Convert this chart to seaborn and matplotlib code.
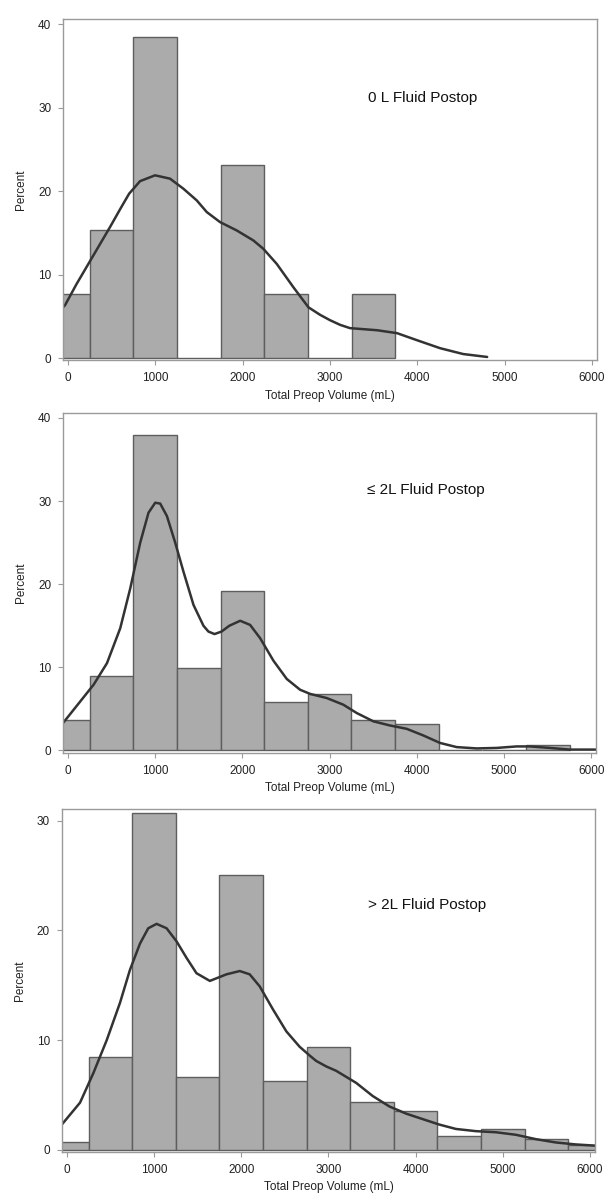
"""
Three stacked histograms of total preop volume with density curves.
"""

import matplotlib
matplotlib.use('Agg')
from matplotlib import pyplot as plt
import pandas as pd
import seaborn as sns

# Bin centers (mL) and bar heights (percent)
centers_0l = [0, 500, 1000, 1500, 2000, 2500, 3000, 3500]
percent_0l = [7.7, 15.4, 38.5, 0, 23.1, 7.7, 0, 7.7]

centers_le2l = [0, 500, 1000, 1500, 2000, 2500, 3000, 3500, 4000, 4500, 5000, 5500]
percent_le2l = [3.7, 8.9, 37.9, 9.9, 19.2, 5.8, 6.8, 3.7, 3.2, 0, 0, 0.6]

centers_gt2l = [0, 500, 1000, 1500, 2000, 2500, 3000, 3500, 4000, 4500, 5000, 5500, 6000]
percent_gt2l = [0.7, 8.5, 30.7, 6.6, 25.1, 6.3, 9.4, 4.4, 3.5, 1.3, 1.9, 1.0, 0.45]

# Density curve points (mL, percent)
kde_x_0l = [-57, -34, 99, 290, 481, 600, 700, 825, 997, 1168, 1321, 1474, 1589, 1741,
            1932, 2123, 2237, 2390, 2581, 2753, 2886, 3001, 3115, 3230, 3540, 3768,
            3998, 4261, 4525, 4800]
kde_y_0l = [6.1, 6.35, 8.9, 12.3, 15.7, 17.9, 19.7, 21.2, 21.9, 21.5, 20.3, 18.9, 17.5, 16.3,
            15.3, 14.1, 13.1, 11.3, 8.5, 6.1, 5.2, 4.55, 4.0, 3.6, 3.35, 3.0,
            2.15, 1.2, 0.5, 0.15]

kde_x_le2l = [-57, -11, 141, 293, 447, 599, 714, 828, 923, 1000, 1057, 1134, 1229,
              1324, 1439, 1553, 1610, 1680, 1760, 1850, 1974, 2088, 2203, 2355, 2508,
              2661, 2776, 2967, 3157, 3310, 3501, 3692, 3883, 4074, 4265, 4456, 4685,
              4914, 5143, 5296, 5525, 5754, 6057]
kde_y_le2l = [3.3, 3.9, 5.9, 7.9, 10.5, 14.7, 19.5, 25.0, 28.6, 29.8, 29.7, 28.2, 25.0,
              21.5, 17.5, 15.0, 14.3, 14.0, 14.3, 15.0, 15.6, 15.1, 13.5, 10.8, 8.6,
              7.3, 6.8, 6.3, 5.5, 4.5, 3.5, 3.0, 2.6, 1.8, 0.9, 0.4, 0.24,
              0.3, 0.48, 0.48, 0.3, 0.1, 0.1]

kde_x_gt2l = [-57, 152, 305, 458, 610, 724, 839, 934, 1030, 1144, 1259, 1373,
              1487, 1640, 1831, 1983, 2097, 2212, 2364, 2517, 2669, 2784, 2860, 2975,
              3089, 3318, 3508, 3699, 3890, 4080, 4271, 4462, 4691, 4920, 5149,
              5378, 5606, 5835, 6057]
kde_y_gt2l = [2.3, 4.3, 7.0, 10.0, 13.4, 16.4, 18.8, 20.2, 20.6, 20.2, 19.0, 17.5,
              16.1, 15.4, 16.0, 16.3, 16.0, 14.9, 12.8, 10.8, 9.4, 8.6, 8.1, 7.6,
              7.2, 6.1, 4.9, 3.95, 3.3, 2.8, 2.3, 1.9, 1.7, 1.6, 1.37,
              0.97, 0.67, 0.49, 0.38]

panel_labels = ['0 L Fluid Postop', '\u2264 2L Fluid Postop', '> 2L Fluid Postop']
x_ticks = [0, 1000, 2000, 3000, 4000, 5000, 6000]

BAR_COLOR = '#ababab'
EDGE_COLOR = '#5e5e5e'
LINE_COLOR = '#333333'
FRAME_COLOR = '#9a9a9a'

sns.set_style('white')
plt.rcParams['font.family'] = ['Liberation Sans', 'DejaVu Sans']

fig = plt.figure(figsize=(6.06, 11.97), dpi=100)

# Axes rectangles in figure fractions, plus y-limits, ticks and label spots
panels = [
    dict(rect=[0.104, 0.699, 0.881, 0.285], ylim=(-0.25, 40.6), yticks=[0, 10, 20, 30, 40],
         centers=centers_0l, percent=percent_0l, kx=kde_x_0l, ky=kde_y_0l,
         text_xy=(0.674, 0.768)),
    dict(rect=[0.104, 0.371, 0.880, 0.284], ylim=(-0.3, 40.6), yticks=[0, 10, 20, 30, 40],
         centers=centers_le2l, percent=percent_le2l, kx=kde_x_le2l, ky=kde_y_le2l,
         text_xy=(0.68, 0.774)),
    dict(rect=[0.102, 0.0376, 0.880, 0.2866], ylim=(-0.2, 31.08), yticks=[0, 10, 20, 30],
         centers=centers_gt2l, percent=percent_gt2l, kx=kde_x_gt2l, ky=kde_y_gt2l,
         text_xy=(0.684, 0.72)),
]

for panel, label in zip(panels, panel_labels):
    ax = fig.add_axes(panel['rect'])
    bars = pd.DataFrame({'volume': panel['centers'], 'percent': panel['percent']})

    # Histogram bars weighted by the read percentages
    sns.histplot(data=bars, x='volume', weights='percent', binwidth=500,
                 binrange=(-250, panel['centers'][-1] + 250), ax=ax,
                 color=BAR_COLOR, edgecolor=EDGE_COLOR, linewidth=1.0, alpha=1.0)

    # Density curve
    sns.lineplot(x=panel['kx'], y=panel['ky'], ax=ax, color=LINE_COLOR,
                 linewidth=1.8, sort=True)

    ax.set_xlim(-57, 6057)
    ax.set_ylim(*panel['ylim'])
    ax.set_xticks(x_ticks)
    ax.set_yticks(panel['yticks'])
    ax.set_xlabel('Total Preop Volume (mL)', fontsize=8.5, color='#222222', labelpad=4)
    ax.set_ylabel('Percent', fontsize=8.5, color='#222222', labelpad=8)
    ax.tick_params(axis='both', which='both', length=3.5, width=0.8, color=FRAME_COLOR,
                   labelsize=8.5, labelcolor='#222222', pad=5, direction='out',
                   bottom=True, left=True)
    for spine in ax.spines.values():
        spine.set_color(FRAME_COLOR)
        spine.set_linewidth(1.0)

    ax.text(*panel['text_xy'], label, transform=ax.transAxes, ha='center',
            va='center', fontsize=11, color='#111111')

fig.savefig('out.png', dpi=100)
plt.close(fig)
